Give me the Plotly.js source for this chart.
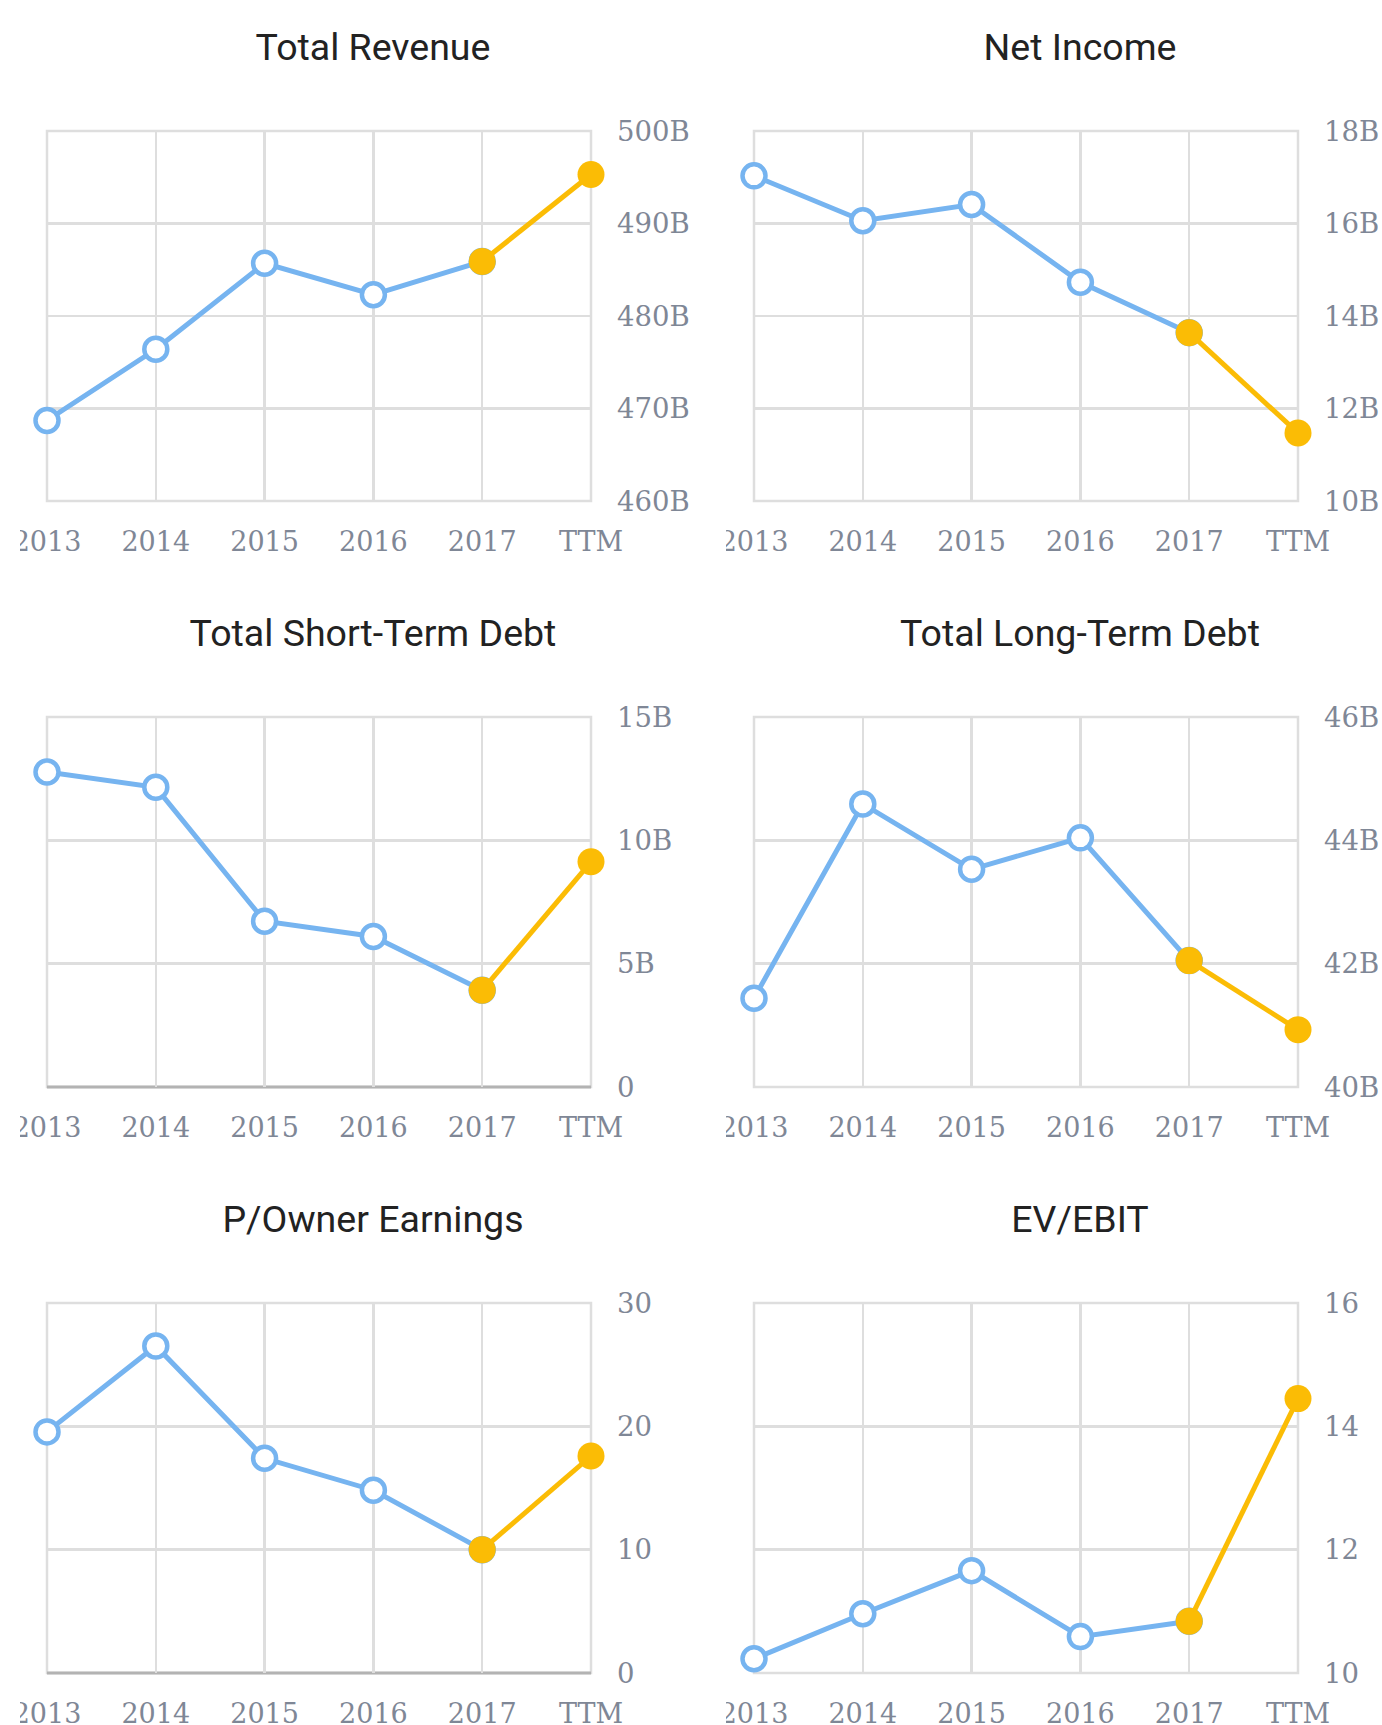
<!DOCTYPE html>
<html>
<head>
<meta charset="utf-8">
<script src="https://cdn.plot.ly/plotly-3.0.1.min.js"></script>
<style>
html,body{margin:0;padding:0;background:#fff;width:1382px;height:1725px;overflow:hidden;}
.panel{position:absolute;overflow:hidden;}
</style>
</head>
<body>
<div id="c0" class="panel"></div>
<div id="c1" class="panel"></div>
<div id="c2" class="panel"></div>
<div id="c3" class="panel"></div>
<div id="c4" class="panel"></div>
<div id="c5" class="panel"></div>
<script>
// ---- data ----
const categories = ['2013','2014','2015','2016','2017','TTM'];
const totalRevenue   = [468.7, 476.4, 485.7, 482.3, 485.9, 495.3]; // billions
const netIncome      = [17.03, 16.06, 16.41, 14.73, 13.64, 11.47]; // billions
const shortTermDebt  = [12.77, 12.15, 6.72, 6.10, 3.92, 9.13];      // billions
const longTermDebt   = [41.44, 44.59, 43.53, 44.04, 42.05, 40.93];  // billions
const pOwnerEarnings = [19.55, 26.52, 17.41, 14.82, 10.00, 17.59];
const evEbit         = [10.23, 10.96, 11.66, 10.59, 10.84, 14.45];

const titles = ['Total Revenue','Net Income','Total Short-Term Debt','Total Long-Term Debt','P/Owner Earnings','EV/EBIT'];
const seriesList = [totalRevenue, netIncome, shortTermDebt, longTermDebt, pOwnerEarnings, evEbit];

// y tick values and labels per chart
const revenueTicks = [460, 470, 480, 490, 500];
const revenueTickText = ['460B','470B','480B','490B','500B'];
const netIncomeTicks = [10, 12, 14, 16, 18];
const netIncomeTickText = ['10B','12B','14B','16B','18B'];
const shortDebtTicks = [0, 5, 10, 15];
const shortDebtTickText = ['0','5B','10B','15B'];
const longDebtTicks = [40, 42, 44, 46];
const longDebtTickText = ['40B','42B','44B','46B'];
const pOwnerTicks = [0, 10, 20, 30];
const pOwnerTickText = ['0','10','20','30'];
const evEbitTicks = [10, 12, 14, 16];
const evEbitTickText = ['10','12','14','16'];

const tickValsList = [revenueTicks, netIncomeTicks, shortDebtTicks, longDebtTicks, pOwnerTicks, evEbitTicks];
const tickTextList = [revenueTickText, netIncomeTickText, shortDebtTickText, longDebtTickText, pOwnerTickText, evEbitTickText];

// ---- style ----
const BLUE = '#76b4f0';
const YELLOW = '#fbbc05';
const GRID = '#dedede';
const TICK = '#7f8796';
const W = 680, H = 586;
const lefts = [20, 726];
const tops = [0, 586, 1172];

seriesList.forEach((vals, i) => {
  const col = i % 2, row = Math.floor(i / 2);
  const el = document.getElementById('c' + i);
  el.style.left = lefts[col] + 'px';
  el.style.top = tops[row] + 'px';
  el.style.width = W + 'px';
  el.style.height = H + 'px';
  const ml = col === 0 ? 27 : 28;

  const hist = {
    x: categories.slice(0, 5), y: vals.slice(0, 5),
    type: 'scatter', mode: 'lines+markers', cliponaxis: false,
    line: {color: BLUE, width: 5},
    marker: {symbol: 'circle', size: 23, color: '#ffffff', line: {color: BLUE, width: 4.5}},
    hoverinfo: 'skip'
  };
  const ttm = {
    x: categories.slice(4), y: vals.slice(4),
    type: 'scatter', mode: 'lines+markers', cliponaxis: false,
    line: {color: YELLOW, width: 5},
    marker: {symbol: 'circle', size: 27, color: YELLOW, line: {width: 0}},
    hoverinfo: 'skip'
  };
  const tv = tickValsList[i];
  const r = [tv[0], tv[tv.length - 1]];
  const hasZero = r[0] === 0;
  const shapes = [
    {type: 'rect', xref: 'paper', yref: 'paper', x0: 0, x1: 1, y0: 0, y1: 1,
     line: {color: GRID, width: 2.5}, fillcolor: 'rgba(0,0,0,0)', layer: 'below'}
  ];
  if (hasZero) {
    shapes.push({type: 'line', xref: 'paper', yref: 'paper', x0: 0, x1: 1, y0: 0, y1: 0,
      line: {color: '#b3b3b3', width: 3}, layer: 'below'});
  }
  const layout = {
    width: W, height: H,
    margin: {l: ml, r: W - ml - 544, t: 131, b: H - 131 - 370},
    paper_bgcolor: '#ffffff', plot_bgcolor: '#ffffff',
    showlegend: false,
    shapes: shapes,
    title: {
      text: titles[i],
      font: {family: 'Roboto, sans-serif', size: 37.5, color: '#222222'},
      xref: 'paper', x: 0.5 + 54 / 544, xanchor: 'center',
      yref: 'container', y: 1 - 47 / H, yanchor: 'middle'
    },
    xaxis: {
      type: 'category', categoryorder: 'array', categoryarray: categories,
      range: [0, 5], fixedrange: true,
      showgrid: true, gridcolor: GRID, gridwidth: 2.5,
      showline: false, zeroline: false, ticks: '',
      ticklabelstandoff: 22,
      tickfont: {family: 'DejaVu Serif, serif', size: 27, color: TICK}
    },
    yaxis: {
      side: 'right', range: r, tickmode: 'array', tickvals: tv, ticktext: tickTextList[i],
      fixedrange: true,
      showgrid: true, gridcolor: GRID, gridwidth: 2.5,
      showline: false, ticks: '', zeroline: false,
      ticklabelstandoff: 25,
      tickfont: {family: 'DejaVu Serif, serif', size: 27.5, color: TICK}
    }
  };
  Plotly.newPlot(el, [hist, ttm], layout, {displayModeBar: false, staticPlot: true});
});
</script>
</body>
</html>
